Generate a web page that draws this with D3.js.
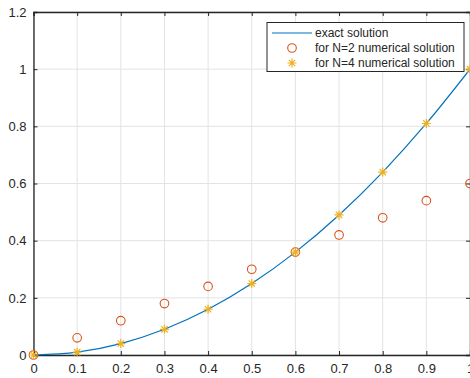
<!DOCTYPE html>
<html>
<head>
<meta charset="utf-8">
<script src="https://cdn.jsdelivr.net/npm/d3@7"></script>
<style>
body { margin: 0; background: #fff; }
text { font-family: "Liberation Sans", Arial, sans-serif; fill: #262626; }
</style>
</head>
<body>
<script>
let width = 470
let height = 378

// data
let xs = [0, 0.1, 0.2, 0.3, 0.4, 0.5, 0.6, 0.7, 0.8, 0.9, 1]
let exact = [0, 0.01, 0.04, 0.09, 0.16, 0.25, 0.36, 0.49, 0.64, 0.81, 1]
let n2 = [0, 0.06, 0.12, 0.18, 0.24, 0.30, 0.36, 0.42, 0.48, 0.54, 0.60]
let n4 = [0, 0.01, 0.04, 0.09, 0.16, 0.25, 0.36, 0.49, 0.64, 0.81, 1]
let xTicks = [0, 0.1, 0.2, 0.3, 0.4, 0.5, 0.6, 0.7, 0.8, 0.9, 1]
let yTicks = [0, 0.2, 0.4, 0.6, 0.8, 1, 1.2]
let legendLabels = ["exact solution", "for N=2 numerical solution", "for N=4 numerical solution"]

let svg = d3.select("body")
.append("svg")
.attr("width", width)
.attr("height", height)

//scales
let x = d3.scaleLinear()
.domain([0, 1])
.range([33.5, 470])

let y = d3.scaleLinear()
.domain([0, 1.2])
.range([355, 12])

let axisColor = "#262626"

// grid
svg.selectAll(".gx")
	.data(xTicks)
	.enter()
	.append("line")
	.attr("x1", d => x(d)).attr("x2", d => x(d))
	.attr("y1", y(0)).attr("y2", y(1.2))
	.style("stroke", "#e3e3e3")
	.style("stroke-width", 1)

svg.selectAll(".gy")
	.data(yTicks)
	.enter()
	.append("line")
	.attr("x1", x(0)).attr("x2", x(1))
	.attr("y1", d => y(d)).attr("y2", d => y(d))
	.style("stroke", "#e3e3e3")
	.style("stroke-width", 1)

// axes
let xAxis = d3.axisBottom(x)
	.tickValues(xTicks)
	.tickSize(-4)
	.tickPadding(9)
	.tickFormat(d => d3.format("~g")(d))

let yAxis = d3.axisLeft(y)
	.tickValues(yTicks)
	.tickSize(-4)
	.tickPadding(7)
	.tickFormat(d => d3.format("~g")(d))

let gx = svg.append("g")
	.attr("transform", "translate(0," + y(0) + ")")
	.call(xAxis)

let gy = svg.append("g")
	.attr("transform", "translate(" + x(0) + ",0)")
	.call(yAxis)

// top and right box with ticks
let gxTop = svg.append("g")
	.attr("transform", "translate(0," + y(1.2) + ")")
	.call(d3.axisTop(x).tickValues(xTicks).tickSize(-4).tickFormat(""))

let gyRight = svg.append("g")
	.attr("transform", "translate(" + x(1) + ",0)")
	.call(d3.axisRight(y).tickValues(yTicks).tickSize(-4).tickFormat(""))

;[gx, gy, gxTop, gyRight].forEach(g => {
	g.select(".domain").attr("stroke", axisColor).attr("stroke-width", 1.3)
	g.selectAll(".tick line").attr("stroke", axisColor).attr("stroke-width", 1)
	g.selectAll(".tick text")
		.style("font-family", "Liberation Sans, Arial, sans-serif")
		.style("font-size", "13px")
		.attr("fill", axisColor)
})

// exact line
let pts = xs.map((d, i) => [d, exact[i]])
svg.append("path")
	.datum(pts)
	.attr("d", d3.line().x(d => x(d[0])).y(d => y(d[1])).curve(d3.curveMonotoneX))
	.style("fill", "none")
	.style("stroke", "#0072BD")
	.style("stroke-width", 1.2)

// N=2 circles
svg.selectAll(".c2")
	.data(xs.map((d, i) => [d, n2[i]]))
	.enter()
	.append("circle")
	.attr("cx", d => x(d[0]))
	.attr("cy", d => y(d[1]))
	.attr("r", 4.3)
	.style("fill", "none")
	.style("stroke", "#D95319")
	.style("stroke-width", 1.1)

// asterisk marker
function star(g, cx, cy, s) {
	let p = ""
	;[0, 45, 90, 135].forEach(a => {
		let r = a * Math.PI / 180
		let dx = Math.cos(r) * s, dy = Math.sin(r) * s
		p += "M" + (cx - dx) + "," + (cy - dy) + "L" + (cx + dx) + "," + (cy + dy)
	})
	g.append("path")
		.attr("d", p)
		.style("stroke", "#EDB120")
		.style("stroke-width", 1.2)
		.style("fill", "none")
}

let stars = svg.append("g")
xs.forEach((d, i) => star(stars, x(d), y(n4[i]), 4.5))

// legend
let lg = svg.append("g")
lg.append("rect")
	.attr("x", 267).attr("y", 22.5)
	.attr("width", 197).attr("height", 49)
	.style("fill", "#fff")
	.style("stroke", axisColor)
	.style("stroke-width", 1)

legendLabels.forEach((t, i) => {
	let cy = 33 + i * 15
	if (i == 0) {
		lg.append("line")
			.attr("x1", 272).attr("x2", 312)
			.attr("y1", cy).attr("y2", cy)
			.style("stroke", "#0072BD")
			.style("stroke-width", 1.2)
	} else if (i == 1) {
		lg.append("circle")
			.attr("cx", 292).attr("cy", cy).attr("r", 4.3)
			.style("fill", "none")
			.style("stroke", "#D95319")
			.style("stroke-width", 1.1)
	} else {
		star(lg, 292, cy, 4.5)
	}
	lg.append("text")
		.attr("x", 315)
		.attr("y", cy)
		.attr("dy", "0.35em")
		.style("font-size", "12px")
		.text(t)
})
</script>
</body>
</html>
